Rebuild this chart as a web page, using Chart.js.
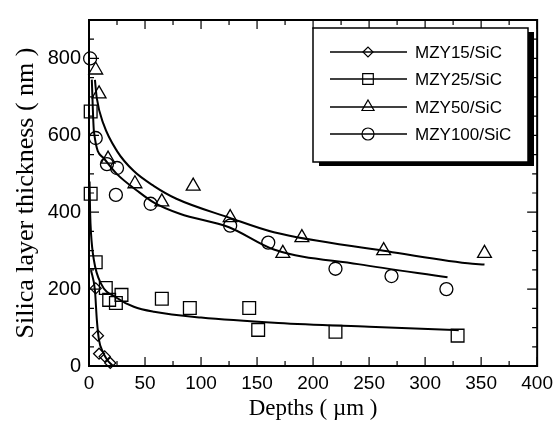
<!DOCTYPE html>
<html>
<head>
<meta charset="utf-8">
<script src="https://cdn.jsdelivr.net/npm/chart.js@4.4.1/dist/chart.umd.min.js"></script>
<style>
  html, body { margin: 0; padding: 0; background: #fff; }
  #wrap { width: 559px; height: 439px; }
</style>
</head>
<body>
<div id="wrap"><canvas id="silicaChart" width="559" height="439"></canvas></div>
<script>
// measured points: depth (µm) and silica layer thickness (nm)
const seriesNames = ["MZY15/SiC", "MZY25/SiC", "MZY50/SiC", "MZY100/SiC"];

const mzy15Depth = [6, 8, 9, 14, 19];
const mzy15Thick = [202, 79, 32, 25, 8];

const mzy25Depth = [1.5, 1.5, 6, 15, 18, 24, 29, 65, 90, 143, 151, 220, 329];
const mzy25Thick = [662, 448, 270, 203, 172, 164, 185, 175, 151, 151, 94, 89, 79];

const mzy50Depth = [6, 9, 17, 41, 65, 93, 126, 173, 190, 263, 353];
const mzy50Thick = [770, 708, 538, 474, 427, 468, 386, 293, 334, 300, 293];

const mzy100Depth = [1, 6, 16, 25, 24, 55, 126, 160, 220, 270, 319];
const mzy100Thick = [800, 593, 525, 515, 445, 422, 365, 321, 253, 234, 200];

// fitted curves
const fit15Depth = [1.8, 5.3, 7, 8.9, 12.4, 16, 21];
const fit15Thick = [249, 197, 120, 68, 37, 17, 1];

const fit25Depth = [0.5, 1, 1.8, 4.4, 10.6, 25, 40, 58, 100, 169, 250, 320, 330];
const fit25Thick = [480, 400, 345, 275, 215, 177, 154, 141, 126, 112, 102, 94, 93];

const fit50Depth = [5.3, 7, 13, 25, 40, 58, 78, 125, 165, 263, 338, 353];
const fit50Thick = [744, 696, 629, 559, 507, 468, 435, 386, 348, 300, 267, 264];

const fit100Depth = [2.5, 4.4, 13, 25, 43, 58, 81, 125, 165, 240, 320];
const fit100Thick = [745, 610, 541, 499, 456, 425, 396, 361, 303, 265, 231];

const xTickLabels = [0, 50, 100, 150, 200, 250, 300, 350, 400];
const yTickLabels = [0, 200, 400, 600, 800];

const markerStyles = ["rectRot", "rect", "triangle", "circle"];
const markerRadius = [5.5, 9, 8, 6.5];

function toPoints(xs, ys) {
  return xs.map((v, i) => ({ x: v, y: ys[i] }));
}

function pointSet(label, xs, ys, i) {
  return {
    label: label,
    data: toPoints(xs, ys),
    showLine: false,
    pointStyle: markerStyles[i],
    pointRadius: markerRadius[i],
    pointBorderWidth: 1.3,
    pointBorderColor: "#000",
    pointBackgroundColor: "rgba(0,0,0,0)",
    clip: false,
  };
}

function fitSet(xs, ys) {
  return {
    label: "fit",
    data: toPoints(xs, ys),
    showLine: true,
    borderColor: "#000",
    borderWidth: 2,
    pointRadius: 0,
    cubicInterpolationMode: "monotone",
    clip: false,
  };
}

// ticks pointing inward on all four sides + frame
const frameTicks = {
  id: "frameTicks",
  afterDatasetsDraw(chart) {
    const { ctx, chartArea: a, scales: { x, y } } = chart;
    ctx.save();
    ctx.strokeStyle = "#000";
    ctx.lineWidth = 1.2;
    ctx.beginPath();
    x.ticks.forEach((t) => {
      const px = x.getPixelForValue(t.value);
      const len = xTickLabels.includes(t.value) ? 9 : 5;
      ctx.moveTo(px, a.bottom);
      ctx.lineTo(px, a.bottom - len);
      ctx.moveTo(px, a.top);
      ctx.lineTo(px, a.top + len);
    });
    y.ticks.forEach((t) => {
      const py = y.getPixelForValue(t.value);
      const len = yTickLabels.includes(t.value) ? 10 : 5;
      ctx.moveTo(a.left, py);
      ctx.lineTo(a.left + len, py);
      ctx.moveTo(a.right, py);
      ctx.lineTo(a.right - len, py);
    });
    ctx.stroke();
    ctx.lineWidth = 2;
    ctx.strokeRect(a.left, a.top, a.right - a.left, a.bottom - a.top);
    ctx.restore();
  },
};

// legend box with shadow, as in the original figure
const legendBox = {
  id: "legendBox",
  afterDraw(chart) {
    const ctx = chart.ctx;
    const bx = 313, by = 28, bw = 215, bh = 134;
    ctx.save();
    ctx.fillStyle = "#000";
    ctx.fillRect(bx + 6, by + 4, bw, bh);
    ctx.fillStyle = "#fff";
    ctx.fillRect(bx, by, bw, bh);
    ctx.strokeStyle = "#000";
    ctx.lineWidth = 1.5;
    ctx.strokeRect(bx, by, bw, bh);

    const rows = [52, 79, 107, 134];
    const legendRadius = [5, 7.5, 7, 6];
    ctx.font = "17px 'Liberation Sans', Arial, sans-serif";
    ctx.textBaseline = "middle";
    ctx.textAlign = "left";
    seriesNames.forEach((name, i) => {
      const ry = rows[i];
      ctx.strokeStyle = "#000";
      ctx.lineWidth = 1.5;
      ctx.beginPath();
      ctx.moveTo(330, ry);
      ctx.lineTo(407, ry);
      ctx.stroke();
      ctx.fillStyle = "rgba(0,0,0,0)";
      ctx.lineWidth = 1.2;
      Chart.helpers.drawPoint(ctx, {
        pointStyle: markerStyles[i],
        radius: legendRadius[i],
        rotation: 0,
        borderWidth: 1.2,
      }, 368, ry);
      ctx.fillStyle = "#000";
      ctx.fillText(name, 415, ry + 1);
    });
    ctx.restore();
  },
};

const ctx = document.getElementById("silicaChart").getContext("2d");

new Chart(ctx, {
  type: "scatter",
  data: {
    datasets: [
      fitSet(fit15Depth, fit15Thick),
      fitSet(fit25Depth, fit25Thick),
      fitSet(fit50Depth, fit50Thick),
      fitSet(fit100Depth, fit100Thick),
      pointSet(seriesNames[0], mzy15Depth, mzy15Thick, 0),
      pointSet(seriesNames[1], mzy25Depth, mzy25Thick, 1),
      pointSet(seriesNames[2], mzy50Depth, mzy50Thick, 2),
      pointSet(seriesNames[3], mzy100Depth, mzy100Thick, 3),
    ],
  },
  options: {
    responsive: false,
    animation: false,
    devicePixelRatio: 1,
    layout: { padding: { top: 18, right: 19, left: 0, bottom: 0 } },
    plugins: {
      legend: { display: false },
      tooltip: { enabled: false },
    },
    scales: {
      x: {
        type: "linear",
        min: 0,
        max: 400,
        grid: { display: false, drawTicks: false },
        border: { display: false },
        ticks: {
          stepSize: 25,
          autoSkip: false,
          maxRotation: 0,
          padding: 6,
          color: "#000",
          font: { family: "'Liberation Sans', Arial, sans-serif", size: 19 },
          callback: (v) => (xTickLabels.includes(v) ? String(v) : ""),
        },
        title: {
          display: true,
          text: "Depths ( µm )",
          color: "#000",
          font: { family: "'Liberation Serif', 'Times New Roman', serif", size: 23 },
          padding: { top: 0, bottom: 16 },
        },
        afterFit(scale) {
          scale.height = 73;
        },
      },
      y: {
        type: "linear",
        min: 0,
        max: 900,
        grid: { display: false, drawTicks: false },
        border: { display: false },
        ticks: {
          stepSize: 50,
          autoSkip: false,
          padding: 8,
          color: "#000",
          font: { family: "'Liberation Sans', Arial, sans-serif", size: 20 },
          callback: (v) => (yTickLabels.includes(v) ? String(v) : ""),
        },
        title: {
          display: true,
          text: "Silica layer thickness ( nm )",
          color: "#000",
          font: { family: "'Liberation Serif', 'Times New Roman', serif", size: 26 },
          padding: { top: 11, bottom: 0 },
        },
        afterFit(scale) {
          scale.width = 89;
        },
      },
    },
  },
  plugins: [frameTicks, legendBox],
});
</script>
</body>
</html>
